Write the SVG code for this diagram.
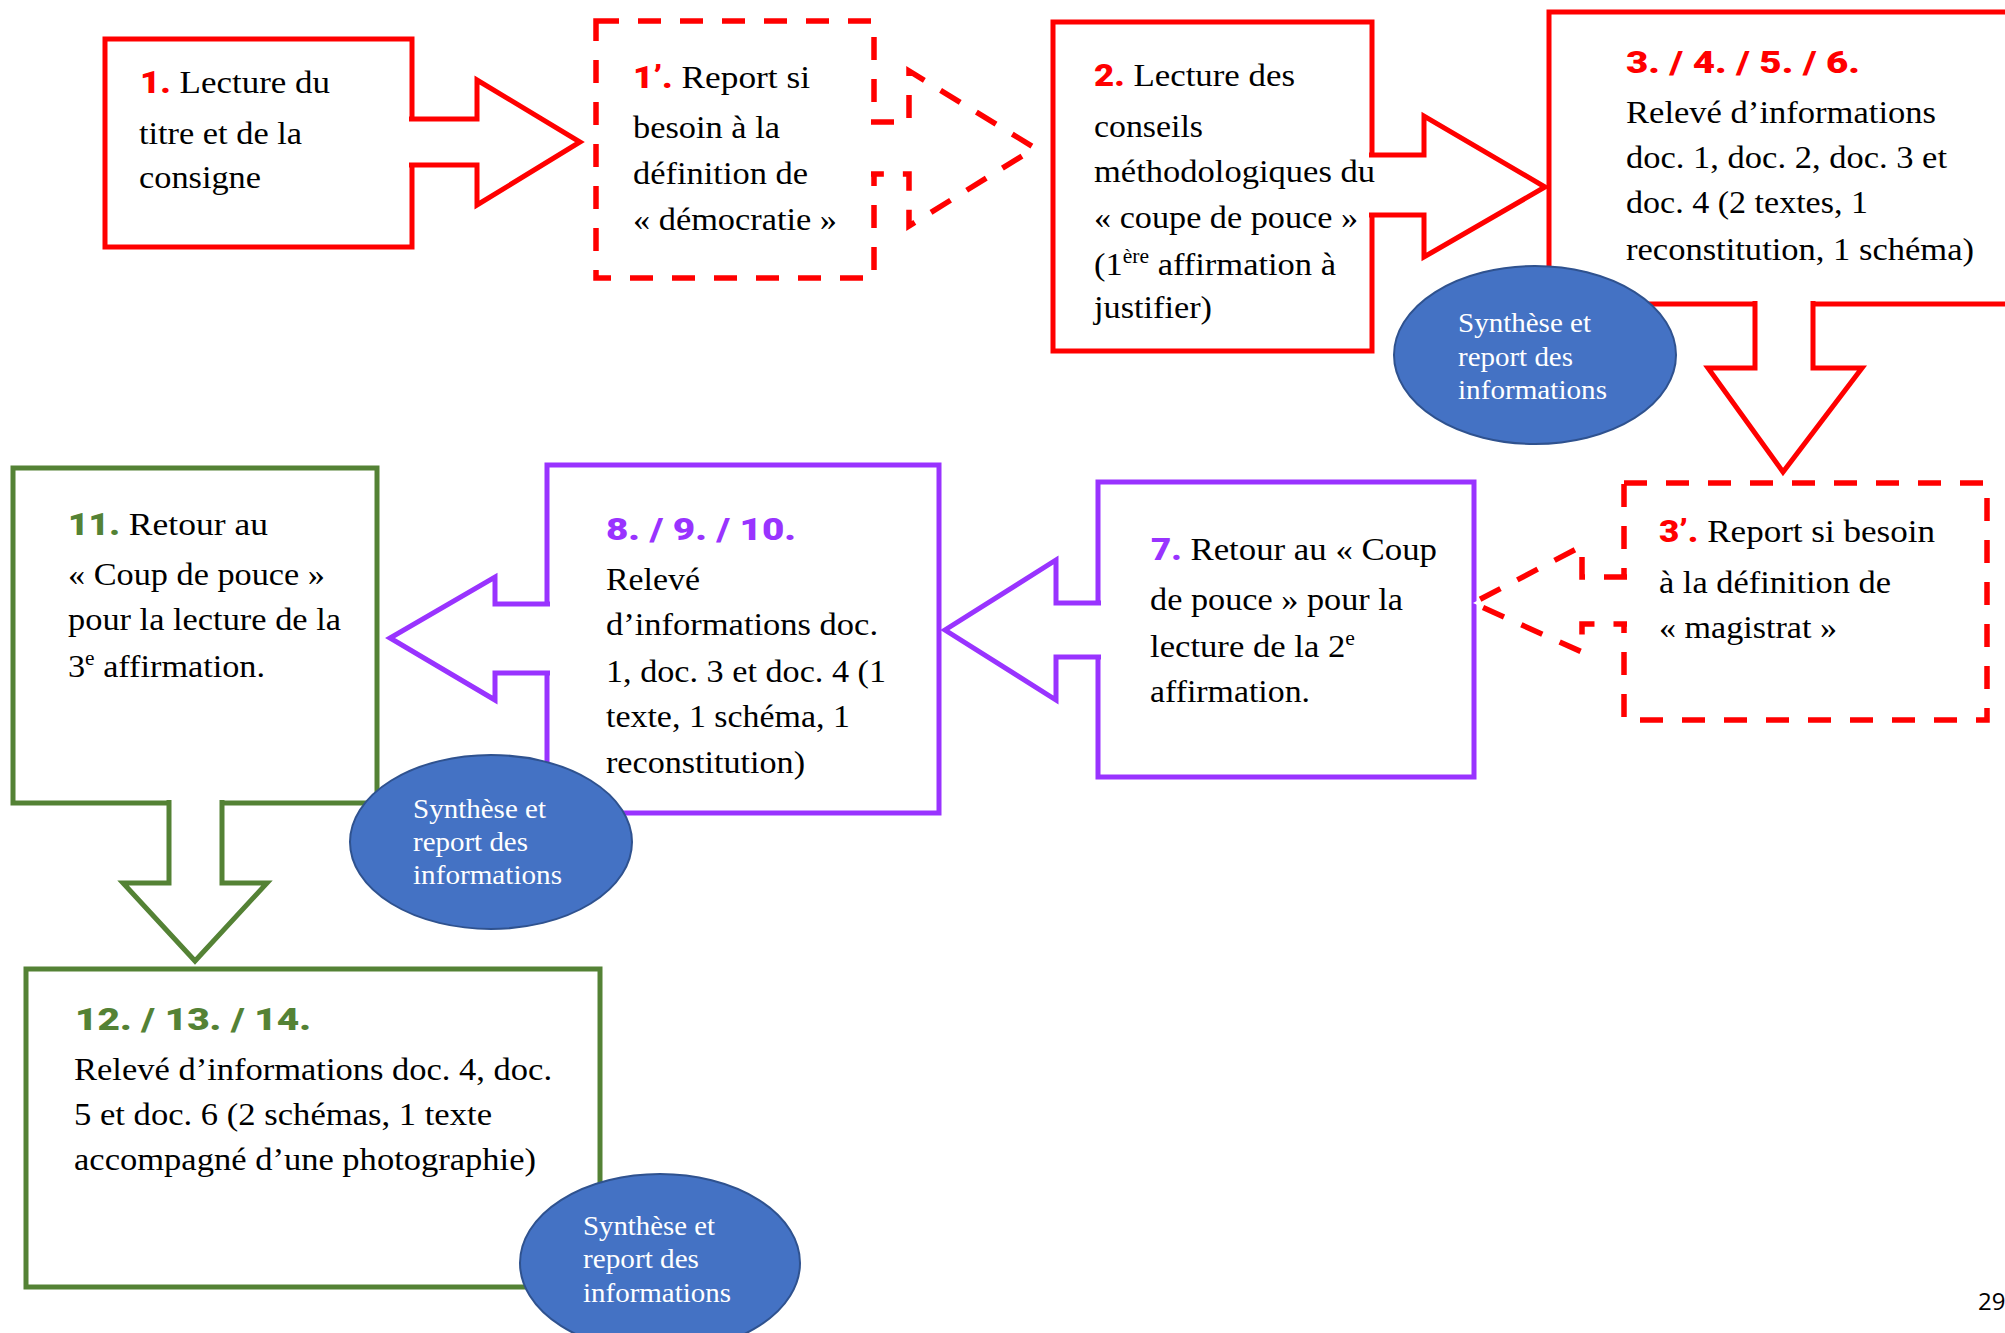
<svg xmlns="http://www.w3.org/2000/svg" width="2005" height="1333" viewBox="0 0 2005 1333">
<style>
.bg{fill:#fff}
.box{fill:#fff;stroke-width:5}
.arw{fill:#fff;stroke-width:5;stroke-linejoin:miter}
.r{stroke:#FF0000}
.p{stroke:#9933FF}
.g{stroke:#548235}
.d{stroke-dasharray:23 19;stroke-width:5.5}
.t{font-family:"Liberation Serif","Times New Roman",serif;font-size:32px;fill:#000}
.h{font-family:Roboto,"Liberation Sans",Arial,sans-serif;font-weight:900}
.cr{fill:#FF0000}.cp{fill:#9933FF}.cg{fill:#548235}
.ell{fill:#4472C4;stroke:#2F528F;stroke-width:2}
.et{font-family:"Liberation Serif","Times New Roman",serif;font-size:28px;fill:#fff}
.pg{font-family:"Open Sans","Liberation Sans",sans-serif;font-size:24px;fill:#000}
</style>
<rect class="bg" x="0" y="0" width="2005" height="1333"/>

<g id="node-1">
<rect class="box r" x="105" y="39" width="307" height="208"/>
</g>
<g id="node-1p">
<rect class="box r d" x="596" y="21" width="278" height="257"/>
</g>
<g id="node-2">
<rect class="box r" x="1053" y="22" width="319" height="329"/>
</g>
<g id="node-3">
<rect class="box r" x="1549" y="12" width="481" height="292"/>
</g>
<g id="node-3p">
<rect class="box r d" x="1624" y="483" width="363" height="237"/>
</g>
<g id="node-7">
<rect class="box p" x="1098" y="482" width="376" height="295"/>
</g>
<g id="node-8">
<rect class="box p" x="547" y="465" width="392" height="348"/>
</g>
<g id="node-11">
<rect class="box g" x="13" y="468" width="364" height="335"/>
</g>
<g id="node-12">
<rect class="box g" x="26" y="969" width="574" height="318"/>
</g>

<g id="connectors">
<path class="arw r" d="M409,119 H477 V80 L580,142 L477,205 V165 H409"/>
<path class="arw r d" d="M871,122 H909 V71 L1035,148 L909,226 V174 H871"/>
<path class="arw r" d="M1369,155 H1424 V116 L1545,187 L1424,257 V215 H1369"/>
<path class="arw r" d="M1755,301 V368 H1708 L1783,472 L1862,368 H1813 V301"/>
<path class="arw r d" d="M1627,577 H1582 V546 L1473,603 L1582,652 V624 H1627"/>
<path class="arw p" d="M1101,603 H1056 V560 L945,630 L1056,700 V657 H1101"/>
<path class="arw p" d="M550,604 H495 V577 L390,638 L495,700 V673 H550"/>
<path class="arw g" d="M169,800 V883 H123 L195,961 L267,883 H222 V800"/>
</g>

<g id="text-1">
<text class="t" x="140" y="93" textLength="190" lengthAdjust="spacingAndGlyphs"><tspan class="h cr">1.</tspan> Lecture du</text>
<text class="t" x="139" y="144" textLength="163" lengthAdjust="spacingAndGlyphs">titre et de la</text>
<text class="t" x="139" y="188" textLength="122" lengthAdjust="spacingAndGlyphs">consigne</text>
</g>
<g id="text-1p">
<text class="t" x="633" y="88" textLength="177" lengthAdjust="spacingAndGlyphs"><tspan class="h cr">1’.</tspan> Report si</text>
<text class="t" x="633" y="138" textLength="147" lengthAdjust="spacingAndGlyphs">besoin à la</text>
<text class="t" x="633" y="184" textLength="175" lengthAdjust="spacingAndGlyphs">définition de</text>
<text class="t" x="633" y="230" textLength="204" lengthAdjust="spacingAndGlyphs">« démocratie »</text>
</g>
<g id="text-2">
<text class="t" x="1094" y="86" textLength="201" lengthAdjust="spacingAndGlyphs"><tspan class="h cr">2.</tspan> Lecture des</text>
<text class="t" x="1094" y="137" textLength="109" lengthAdjust="spacingAndGlyphs">conseils</text>
<text class="t" x="1094" y="182" textLength="281" lengthAdjust="spacingAndGlyphs">méthodologiques du</text>
<text class="t" x="1094" y="228" textLength="264" lengthAdjust="spacingAndGlyphs">« coupe de pouce »</text>
<text class="t" x="1094" y="275" textLength="242" lengthAdjust="spacingAndGlyphs">(1<tspan font-size="20" dy="-12">ère</tspan><tspan dy="12"> affirmation à</tspan></text>
<text class="t" x="1094" y="318" textLength="118" lengthAdjust="spacingAndGlyphs">justifier)</text>
</g>
<g id="text-3">
<text class="t h cr" x="1626" y="73" textLength="234" lengthAdjust="spacingAndGlyphs">3. / 4. / 5. / 6.</text>
<text class="t" x="1626" y="123" textLength="310" lengthAdjust="spacingAndGlyphs">Relevé d’informations</text>
<text class="t" x="1626" y="168" textLength="321" lengthAdjust="spacingAndGlyphs">doc. 1, doc. 2, doc. 3 et</text>
<text class="t" x="1626" y="213" textLength="242" lengthAdjust="spacingAndGlyphs">doc. 4 (2 textes, 1</text>
<text class="t" x="1626" y="260" textLength="348" lengthAdjust="spacingAndGlyphs">reconstitution, 1 schéma)</text>
</g>
<g id="text-3p">
<text class="t" x="1659" y="542" textLength="276" lengthAdjust="spacingAndGlyphs"><tspan class="h cr">3’.</tspan> Report si besoin</text>
<text class="t" x="1659" y="593" textLength="232" lengthAdjust="spacingAndGlyphs">à la définition de</text>
<text class="t" x="1659" y="638" textLength="178" lengthAdjust="spacingAndGlyphs">« magistrat »</text>
</g>
<g id="text-7">
<text class="t" x="1151" y="560" textLength="286" lengthAdjust="spacingAndGlyphs"><tspan class="h cp">7.</tspan> Retour au « Coup</text>
<text class="t" x="1150" y="610" textLength="253" lengthAdjust="spacingAndGlyphs">de pouce » pour la</text>
<text class="t" x="1150" y="657" textLength="205" lengthAdjust="spacingAndGlyphs">lecture de la 2<tspan font-size="20" dy="-12">e</tspan></text>
<text class="t" x="1150" y="702" textLength="160" lengthAdjust="spacingAndGlyphs">affirmation.</text>
</g>
<g id="text-8">
<text class="t h cp" x="606" y="540" textLength="190" lengthAdjust="spacingAndGlyphs">8. / 9. / 10.</text>
<text class="t" x="606" y="590" textLength="94" lengthAdjust="spacingAndGlyphs">Relevé</text>
<text class="t" x="606" y="635" textLength="272" lengthAdjust="spacingAndGlyphs">d’informations doc.</text>
<text class="t" x="606" y="682" textLength="280" lengthAdjust="spacingAndGlyphs">1, doc. 3 et doc. 4 (1</text>
<text class="t" x="606" y="727" textLength="244" lengthAdjust="spacingAndGlyphs">texte, 1 schéma, 1</text>
<text class="t" x="606" y="773" textLength="199" lengthAdjust="spacingAndGlyphs">reconstitution)</text>
</g>
<g id="text-11">
<text class="t" x="68" y="535" textLength="200" lengthAdjust="spacingAndGlyphs"><tspan class="h cg">11.</tspan> Retour au</text>
<text class="t" x="68" y="585" textLength="257" lengthAdjust="spacingAndGlyphs">« Coup de pouce »</text>
<text class="t" x="68" y="630" textLength="273" lengthAdjust="spacingAndGlyphs">pour la lecture de la</text>
<text class="t" x="68" y="677" textLength="197" lengthAdjust="spacingAndGlyphs">3<tspan font-size="20" dy="-12">e</tspan><tspan dy="12"> affirmation.</tspan></text>
</g>
<g id="text-12">
<text class="t h cg" x="75" y="1030" textLength="236" lengthAdjust="spacingAndGlyphs">12. / 13. / 14.</text>
<text class="t" x="74" y="1080" textLength="478" lengthAdjust="spacingAndGlyphs">Relevé d’informations doc. 4, doc.</text>
<text class="t" x="74" y="1125" textLength="418" lengthAdjust="spacingAndGlyphs">5 et doc. 6 (2 schémas, 1 texte</text>
<text class="t" x="74" y="1170" textLength="462" lengthAdjust="spacingAndGlyphs">accompagné d’une photographie)</text>
</g>

<g id="synthese-1">
<ellipse class="ell" cx="1535" cy="355" rx="141" ry="89"/>
<text class="et" x="1458" y="332" textLength="133" lengthAdjust="spacingAndGlyphs">Synthèse et</text>
<text class="et" x="1458" y="366" textLength="115" lengthAdjust="spacingAndGlyphs">report des</text>
<text class="et" x="1458" y="399" textLength="149" lengthAdjust="spacingAndGlyphs">informations</text>
</g>
<g id="synthese-2">
<ellipse class="ell" cx="491" cy="842" rx="141" ry="87"/>
<text class="et" x="413" y="818" textLength="133" lengthAdjust="spacingAndGlyphs">Synthèse et</text>
<text class="et" x="413" y="851" textLength="115" lengthAdjust="spacingAndGlyphs">report des</text>
<text class="et" x="413" y="884" textLength="149" lengthAdjust="spacingAndGlyphs">informations</text>
</g>
<g id="synthese-3">
<ellipse class="ell" cx="660" cy="1263" rx="140" ry="89"/>
<text class="et" x="583" y="1235" textLength="132" lengthAdjust="spacingAndGlyphs">Synthèse et</text>
<text class="et" x="583" y="1268" textLength="116" lengthAdjust="spacingAndGlyphs">report des</text>
<text class="et" x="583" y="1302" textLength="148" lengthAdjust="spacingAndGlyphs">informations</text>
</g>

<text class="pg" x="1978" y="1310">29</text>
</svg>
